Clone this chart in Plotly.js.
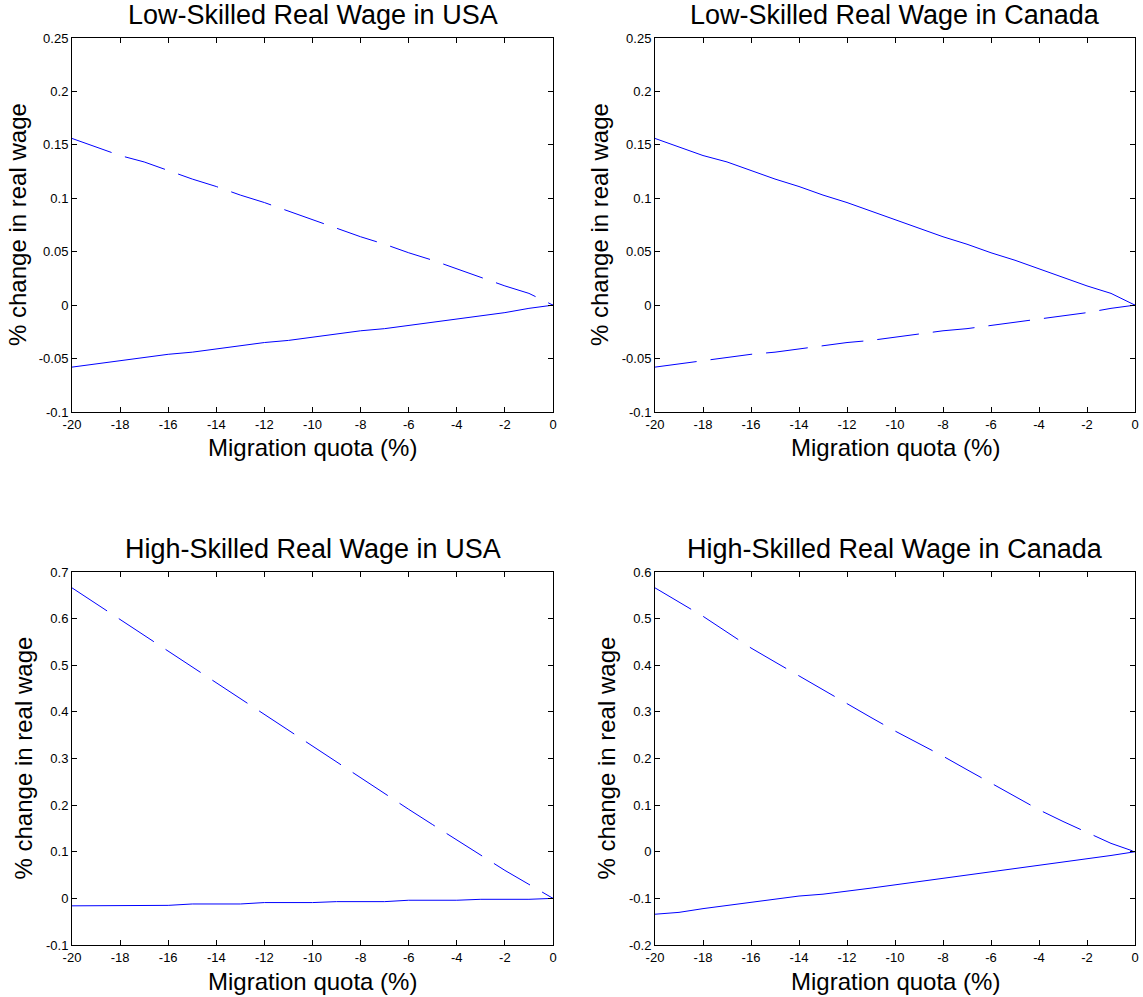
<!DOCTYPE html>
<html>
<head>
<meta charset="utf-8">
<script src="https://cdn.plot.ly/plotly-3.0.1.min.js"></script>
<style>html,body{margin:0;padding:0;background:#fff;}#chart{width:1143px;height:997px;}</style>
</head>
<body>
<div id="chart"></div>
<script>
// ---- data ----
const quota = [-20,-19,-18,-17,-16,-15,-14,-13,-12,-11,-10,-9,-8,-7,-6,-5,-4,-3,-2,-1,0];

// Low-skilled: rising branch and falling branch (same values in both countries, styles swapped)
const lowUpper = [0.156,0.148,0.140,0.134,0.126,0.118,0.111,0.103,0.096,0.088,0.080,0.072,0.064,0.057,0.049,0.042,0.034,0.026,0.018,0.011,0];
const lowLower = [-0.058,-0.055,-0.052,-0.049,-0.046,-0.044,-0.041,-0.038,-0.035,-0.033,-0.030,-0.027,-0.024,-0.022,-0.019,-0.016,-0.013,-0.010,-0.007,-0.003,0];

// High-skilled USA
const highUsaDash  = [0.666,0.632,0.598,0.564,0.530,0.496,0.462,0.428,0.394,0.360,0.326,0.292,0.259,0.225,0.191,0.158,0.125,0.092,0.060,0.030,0];
const highUsaSolid = [-0.016,-0.0155,-0.015,-0.015,-0.015,-0.012,-0.012,-0.012,-0.009,-0.009,-0.009,-0.007,-0.007,-0.007,-0.004,-0.004,-0.004,-0.002,-0.002,-0.002,0];

// High-skilled Canada
const highCanDash  = [0.566,0.535,0.505,0.471,0.437,0.407,0.377,0.347,0.317,0.288,0.259,0.232,0.205,0.176,0.147,0.118,0.090,0.065,0.041,0.018,0];
const highCanSolid = [-0.134,-0.130,-0.122,-0.115,-0.108,-0.101,-0.095,-0.091,-0.085,-0.078,-0.071,-0.064,-0.057,-0.051,-0.044,-0.037,-0.030,-0.023,-0.016,-0.008,0];

// tick labels
const xTickVals = [-20,-18,-16,-14,-12,-10,-8,-6,-4,-2,0];
const xTickText = ["-20","-18","-16","-14","-12","-10","-8","-6","-4","-2","0"];
const yLowVals = [-0.1,-0.05,0,0.05,0.1,0.15,0.2,0.25];
const yLowText = ["-0.1","-0.05","0","0.05","0.1","0.15","0.2","0.25"];
const yHighUsaVals = [-0.1,0,0.1,0.2,0.3,0.4,0.5,0.6,0.7];
const yHighUsaText = ["-0.1","0","0.1","0.2","0.3","0.4","0.5","0.6","0.7"];
const yHighCanVals = [-0.2,-0.1,0,0.1,0.2,0.3,0.4,0.5,0.6];
const yHighCanText = ["-0.2","-0.1","0","0.1","0.2","0.3","0.4","0.5","0.6"];

const panelTitles = ["Low-Skilled Real Wage in USA","Low-Skilled Real Wage in Canada","High-Skilled Real Wage in USA","High-Skilled Real Wage in Canada"];
const xTitle = "Migration quota (%)";
const yTitle = "% change in real wage";

// ---- layout helpers ----
const W = 1143, H = 997;
const FONT = "Liberation Sans, Arial, Helvetica, sans-serif";
const BLUE = "#0000ff";
const DASH = "42px,14px";

function px(x){ return x / W; }
function py(y){ return 1 - y / H; }

function line(x, y, xa, ya, dashed){
  return {x:x, y:y, xaxis:xa, yaxis:ya, type:"scatter", mode:"lines",
    line:{color:BLUE, width:1, dash: dashed ? DASH : "solid"}, hoverinfo:"skip", showlegend:false};
}

const traces = [
  line(quota, lowUpper, "x", "y", true),
  line(quota, lowLower, "x", "y", false),
  line(quota, lowUpper, "x2", "y2", false),
  line(quota, lowLower, "x2", "y2", true),
  line(quota, highUsaDash, "x3", "y3", true),
  line(quota, highUsaSolid, "x3", "y3", false),
  line(quota, highCanDash, "x4", "y4", true),
  line(quota, highCanSolid, "x4", "y4", false)
];

// panel pixel boxes [left, right, top, bottom]
const boxes = [[72,553,38,412],[655,1135,38,412],[72,553,572,945],[655,1135,572,945]];

function xAxis(b, anchor){
  return {domain:[px(b[0]), px(b[1])], anchor:anchor, range:[-20,0],
    tickmode:"array", tickvals:xTickVals, ticktext:xTickText,
    ticks:"inside", ticklen:5, tickcolor:"#000", mirror:"ticks", showline:true, linecolor:"#000", linewidth:1,
    showgrid:false, zeroline:false, tickfont:{family:FONT, size:13, color:"#000"}, fixedrange:true};
}
function yAxis(b, anchor, range, vals, text){
  return {domain:[py(b[3]), py(b[2])], anchor:anchor, range:range,
    tickmode:"array", tickvals:vals, ticktext:text,
    ticks:"inside", ticklen:5, tickcolor:"#000", mirror:"ticks", showline:true, linecolor:"#000", linewidth:1,
    showgrid:false, zeroline:false, tickfont:{family:FONT, size:13, color:"#000"}, fixedrange:true};
}

const annotations = [];
const titleY = [15, 15, 549, 549];
const xTitleY = [448, 448, 981, 981];
const yTitleX = [17, 599, 23, 606];
boxes.forEach((b, i) => {
  const cx = (b[0] + b[1]) / 2;
  const cy = (b[2] + b[3]) / 2;
  annotations.push({text:panelTitles[i], xref:"paper", yref:"paper", x:px(cx), y:py(titleY[i]),
    xanchor:"center", yanchor:"middle", showarrow:false, font:{family:FONT, size:27, color:"#000"}});
  annotations.push({text:xTitle, xref:"paper", yref:"paper", x:px(cx), y:py(xTitleY[i]),
    xanchor:"center", yanchor:"middle", showarrow:false, font:{family:FONT, size:24, color:"#000"}});
  annotations.push({text:yTitle, xref:"paper", yref:"paper", x:px(yTitleX[i]), y:py(cy), textangle:-90,
    xanchor:"center", yanchor:"middle", showarrow:false, font:{family:FONT, size:24, color:"#000"}});
});

const layout = {
  width:W, height:H, margin:{l:0, r:0, t:0, b:0},
  paper_bgcolor:"#fff", plot_bgcolor:"#fff", showlegend:false,
  font:{family:FONT, color:"#000"},
  xaxis: xAxis(boxes[0], "y"),
  yaxis: yAxis(boxes[0], "x", [-0.1, 0.25], yLowVals, yLowText),
  xaxis2: xAxis(boxes[1], "y2"),
  yaxis2: yAxis(boxes[1], "x2", [-0.1, 0.25], yLowVals, yLowText),
  xaxis3: xAxis(boxes[2], "y3"),
  yaxis3: yAxis(boxes[2], "x3", [-0.1, 0.7], yHighUsaVals, yHighUsaText),
  xaxis4: xAxis(boxes[3], "y4"),
  yaxis4: yAxis(boxes[3], "x4", [-0.2, 0.6], yHighCanVals, yHighCanText),
  annotations: annotations
};

Plotly.newPlot("chart", traces, layout, {staticPlot:true, displayModeBar:false});
</script>
</body>
</html>
